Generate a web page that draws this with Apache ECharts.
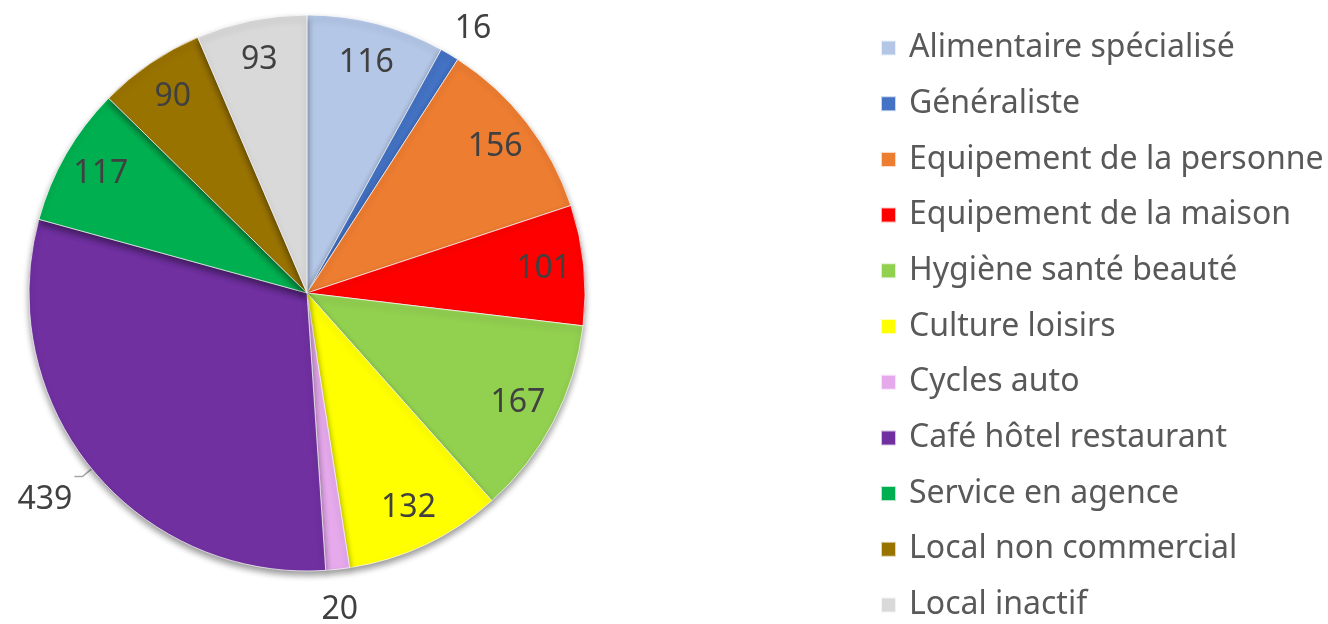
<!DOCTYPE html>
<html>
<head>
<meta charset="utf-8">
<script src="https://cdn.jsdelivr.net/npm/echarts@6/dist/echarts.min.js"></script>
<style>
    html, body { margin: 0; padding: 0; background: #fff; }
    #chart { width: 1328px; height: 624px; }
</style>
</head>
<body>
<div id="chart"></div>
<script>
    // catégories et valeurs
    var categories = ['Alimentaire spécialisé', 'Généraliste', 'Equipement de la personne', 'Equipement de la maison',
        'Hygiène santé beauté', 'Culture loisirs', 'Cycles auto', 'Café hôtel restaurant',
        'Service en agence', 'Local non commercial', 'Local inactif'];
    var values = [116, 16, 156, 101, 167, 132, 20, 439, 117, 90, 93];
    var colors = ['#B4C7E7', '#4472C4', '#ED7D31', '#FF0000', '#92D050', '#FFFF00',
        '#E6A9EC', '#7030A0', '#00B050', '#997300', '#D9D9D9'];
    // étiquettes placées à l'extérieur
    var outsideIdx = [1, 6, 7];

    var center = [307, 293];
    var radius = 278;
    var font = '"Noto Sans", "Open Sans", sans-serif';

    var pieData = [];
    var labelData = [];
    for (var i = 0; i < categories.length; i++) {
        var outside = outsideIdx.indexOf(i) >= 0;
        var item = {
            name: categories[i],
            value: values[i],
            itemStyle: { color: colors[i] },
            label: { show: outside },
            labelLine: { show: i === 7, length: i === 7 ? 12 : 6, length2: i === 7 ? 8 : 0 }
        };
        pieData.push(item);
        labelData.push({
            name: categories[i],
            value: values[i],
            label: { show: !outside }
        });
    }

    var myChart = echarts.init(document.getElementById('chart'));
    var option = {
        backgroundColor: '#fff',
        animation: false,
        legend: {
            orient: 'vertical',
            left: 880,
            top: 32,
            padding: 0,
            itemWidth: 15,
            itemHeight: 15,
            itemGap: 23.7,
            icon: 'rect',
            data: categories,
            textStyle: {
                fontFamily: font,
                fontSize: 32,
                lineHeight: 32,
                color: '#595959',
                padding: [0, 0, 0, 8]
            }
        },
        series: [
            {
                type: 'pie',
                center: center,
                radius: radius,
                startAngle: 90,
                clockwise: true,
                avoidLabelOverlap: false,
                silent: true,
                itemStyle: {
                    borderColor: 'rgba(255,255,255,0.7)',
                    borderWidth: 1,
                    shadowBlur: 6,
                    shadowOffsetY: 4,
                    shadowColor: 'rgba(0,0,0,0.4)'
                },
                label: {
                    position: 'outside',
                    formatter: '{c}',
                    fontFamily: font,
                    fontSize: 32,
                    color: '#404040',
                    distanceToLabelLine: 2
                },
                labelLine: {
                    lineStyle: { color: '#A6A6A6', width: 1.5 }
                },
                labelLayout: function (params) {
                    if (params.dataIndex === 1) {
                        return { dy: -20 };
                    }
                    if (params.dataIndex === 6) {
                        return { dx: -19, dy: 35 };
                    }
                    if (params.dataIndex === 7) {
                        return { dy: 23 };
                    }
                },
                data: pieData
            },
            {
                // série transparente pour les étiquettes intérieures
                type: 'pie',
                center: center,
                radius: [radius * 0.69, radius],
                startAngle: 90,
                clockwise: true,
                silent: true,
                avoidLabelOverlap: false,
                itemStyle: { color: 'rgba(0,0,0,0)' },
                label: {
                    position: 'inside',
                    formatter: '{c}',
                    fontFamily: font,
                    fontSize: 32,
                    color: '#404040'
                },
                labelLine: { show: false },
                data: labelData
            }
        ]
    };
    myChart.setOption(option);
</script>
</body>
</html>
